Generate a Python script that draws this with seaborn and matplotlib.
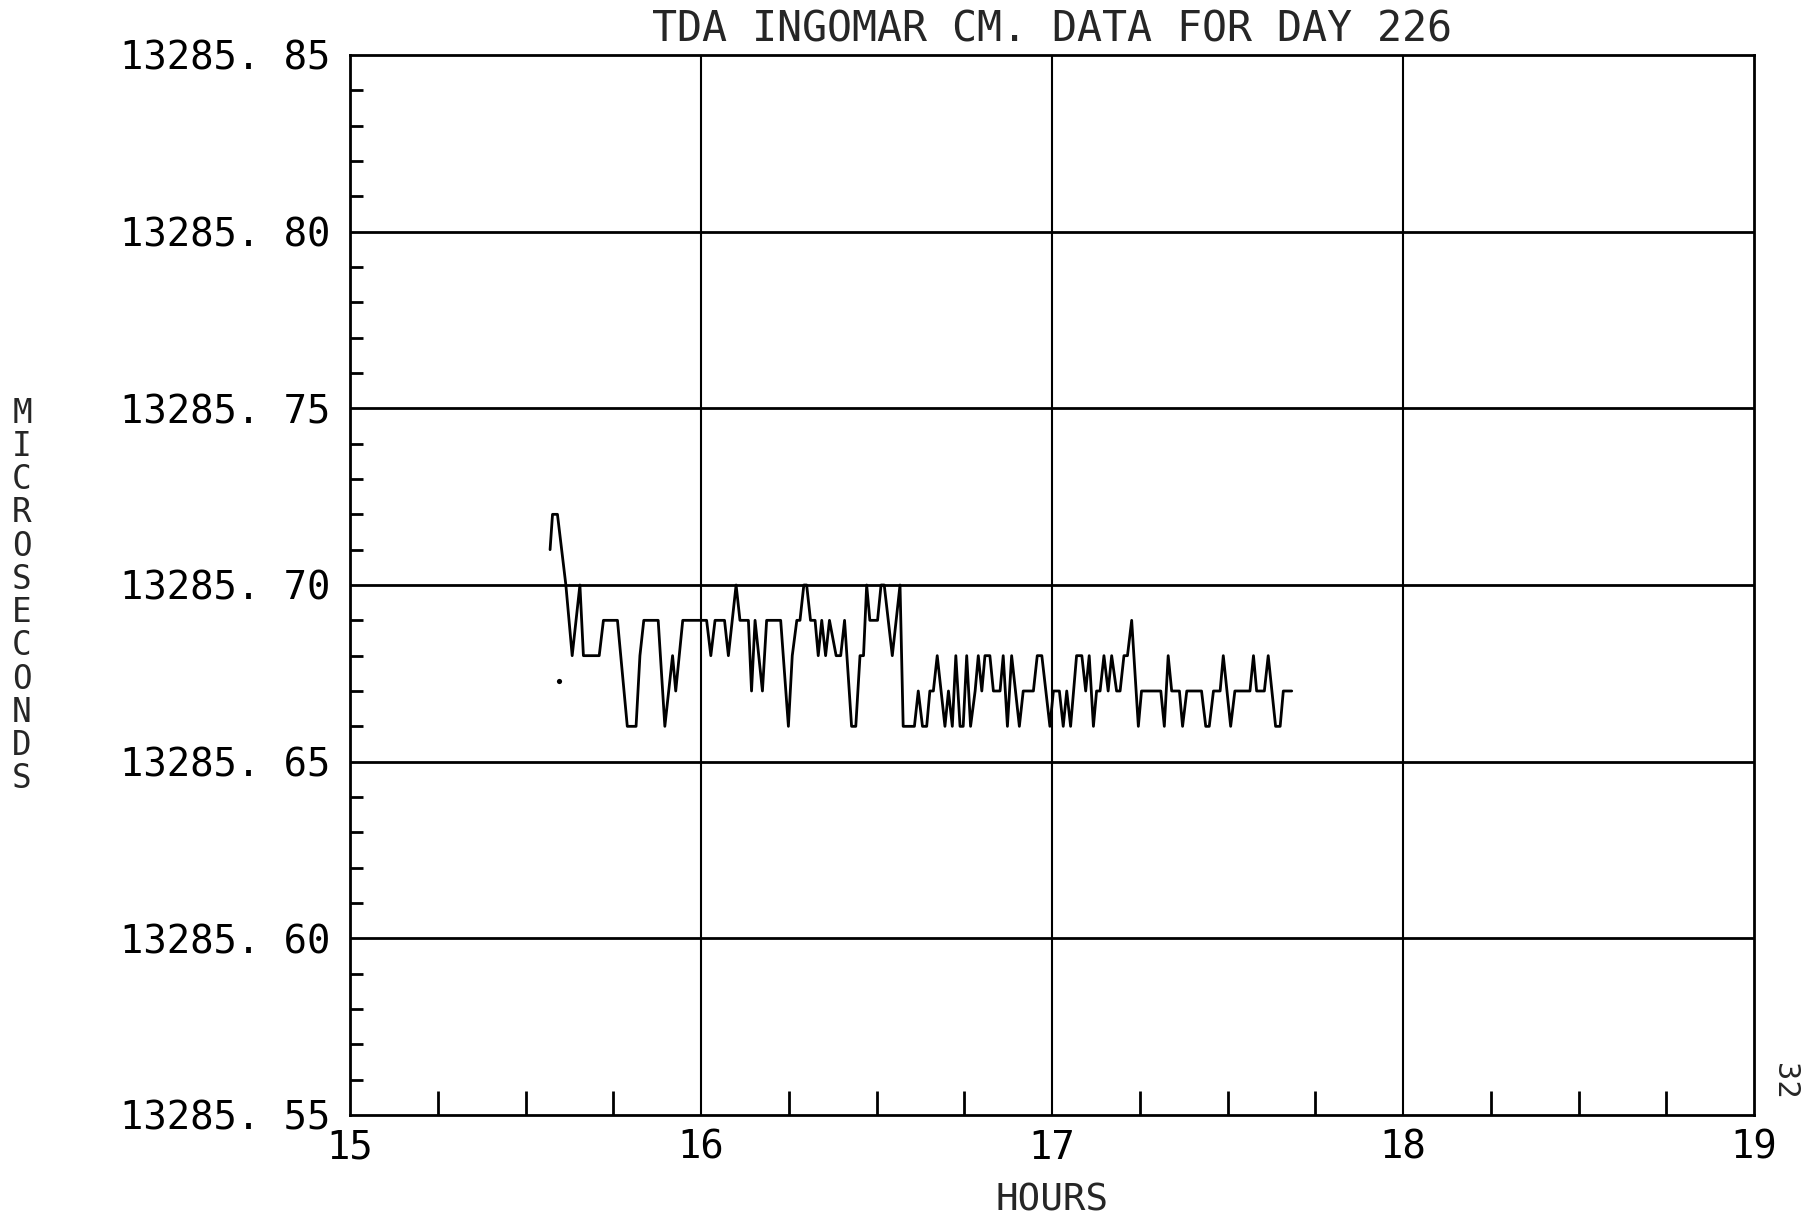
import matplotlib
matplotlib.use("Agg")
import matplotlib.pyplot as plt
from matplotlib.ticker import FixedLocator, FuncFormatter
import seaborn as sns
import pandas as pd

# Ingomar time-difference readings (hours of day 226, microseconds)
hours = [
    15.570, 15.577, 15.591, 15.615, 15.633, 15.655, 15.665, 15.710, 15.722, 15.762,
    15.790, 15.815, 15.826, 15.837, 15.878, 15.897, 15.919, 15.928, 15.948, 16.016,
    16.028, 16.040, 16.067, 16.078, 16.100,
    16.111, 16.135, 16.144, 16.154, 16.175, 16.187, 16.227, 16.249, 16.260, 16.273,
    16.282, 16.293, 16.301, 16.312, 16.325, 16.334, 16.344, 16.355, 16.366, 16.385,
    16.398, 16.409, 16.429, 16.441, 16.453, 16.463, 16.472, 16.481, 16.503, 16.513,
    16.522, 16.545, 16.567, 16.576, 16.608, 16.619, 16.631, 16.643,
    16.652, 16.662, 16.673, 16.695, 16.705, 16.716, 16.726, 16.738, 16.747, 16.757,
    16.768, 16.781, 16.790, 16.800, 16.809, 16.823, 16.833, 16.852, 16.861, 16.873,
    16.885, 16.907, 16.918, 16.947, 16.958, 16.971, 16.994, 17.004, 17.021, 17.032,
    17.042, 17.053, 17.070, 17.085, 17.096, 17.106, 17.118, 17.127, 17.137, 17.148,
    17.160, 17.170,
    17.184, 17.194, 17.205, 17.215, 17.227, 17.246, 17.255, 17.310, 17.320, 17.331,
    17.341, 17.363, 17.372, 17.384, 17.426, 17.438, 17.448, 17.460, 17.479, 17.488,
    17.509, 17.521, 17.564, 17.574, 17.583, 17.605, 17.616, 17.637, 17.650, 17.659,
    17.683,
]
microseconds = [
    13285.71, 13285.72, 13285.72, 13285.70, 13285.68, 13285.70, 13285.68, 13285.68, 13285.69, 13285.69,
    13285.66, 13285.66, 13285.68, 13285.69, 13285.69, 13285.66, 13285.68, 13285.67, 13285.69, 13285.69,
    13285.68, 13285.69, 13285.69, 13285.68, 13285.70,
    13285.69, 13285.69, 13285.67, 13285.69, 13285.67, 13285.69, 13285.69, 13285.66, 13285.68, 13285.69,
    13285.69, 13285.70, 13285.70, 13285.69, 13285.69, 13285.68, 13285.69, 13285.68, 13285.69, 13285.68,
    13285.68, 13285.69, 13285.66, 13285.66, 13285.68, 13285.68, 13285.70, 13285.69, 13285.69, 13285.70,
    13285.70, 13285.68, 13285.70, 13285.66, 13285.66, 13285.67, 13285.66, 13285.66,
    13285.67, 13285.67, 13285.68, 13285.66, 13285.67, 13285.66, 13285.68, 13285.66, 13285.66, 13285.68,
    13285.66, 13285.67, 13285.68, 13285.67, 13285.68, 13285.68, 13285.67, 13285.67, 13285.68, 13285.66,
    13285.68, 13285.66, 13285.67, 13285.67, 13285.68, 13285.68, 13285.66, 13285.67, 13285.67, 13285.66,
    13285.67, 13285.66, 13285.68, 13285.68, 13285.67, 13285.68, 13285.66, 13285.67, 13285.67, 13285.68,
    13285.67, 13285.68,
    13285.67, 13285.67, 13285.68, 13285.68, 13285.69, 13285.66, 13285.67, 13285.67, 13285.66, 13285.68,
    13285.67, 13285.67, 13285.66, 13285.67, 13285.67, 13285.66, 13285.66, 13285.67, 13285.67, 13285.68,
    13285.66, 13285.67, 13285.67, 13285.68, 13285.67, 13285.67, 13285.68, 13285.66, 13285.66, 13285.67,
    13285.67,
]
# isolated pen dot left by the plotter
stray_hours = [15.595]
stray_microseconds = [13285.6727]

x_ticks = [15, 16, 17, 18, 19]
y_ticks = [13285.55, 13285.60, 13285.65, 13285.70, 13285.75, 13285.80, 13285.85]

title_text = "TDA INGOMAR CM. DATA FOR DAY 226"
x_title = "HOURS"
y_title = "MICROSECONDS"
page_number = "32"

sns.set_style("white")
plt.rcParams["font.family"] = ["DejaVu Sans Mono", "DejaVu Sans"]

df = pd.DataFrame({"hours": hours, "us": microseconds})

fig = plt.figure(figsize=(18.02, 12.18), dpi=100)
ax = fig.add_axes([350 / 1802, 1 - 1115 / 1218, 1404 / 1802, 1060 / 1218])

sns.lineplot(data=df, x="hours", y="us", ax=ax, estimator=None, sort=False,
             color="black", linewidth=2.0, zorder=3)
sns.scatterplot(x=stray_hours, y=stray_microseconds, ax=ax, color="black",
                s=14, linewidth=0, zorder=3)

ax.set_xlim(15, 19)
ax.set_ylim(13285.55, 13285.85)

# major grid at whole hours and every 0.05 us, inward minor ticks between
ax.xaxis.set_major_locator(FixedLocator(x_ticks))
ax.yaxis.set_major_locator(FixedLocator(y_ticks))
ax.xaxis.set_minor_locator(FixedLocator([15 + 0.25 * i for i in range(17) if i % 4]))
ax.yaxis.set_minor_locator(FixedLocator([13285.55 + 0.01 * i for i in range(31) if i % 5]))
ax.xaxis.set_major_formatter(FuncFormatter(lambda v, p: f"{v:.0f}"))
ax.yaxis.set_major_formatter(FuncFormatter(lambda v, p: f"{v:.2f}".replace(".", ". ")))

for v in x_ticks[1:-1]:
    ax.axvline(v, color="black", linewidth=1.5, zorder=1)
for v in y_ticks[1:-1]:
    ax.axhline(v, color="black", linewidth=2.0, zorder=1)

ax.tick_params(axis="both", which="both", bottom=True, left=True, top=False, right=False)
ax.tick_params(axis="both", which="major", length=0, labelsize=28, colors="black")
ax.tick_params(axis="x", which="major", pad=10)
ax.tick_params(axis="y", which="major", pad=14)
ax.tick_params(axis="x", which="minor", direction="in", length=17, width=2.0, color="black")
ax.tick_params(axis="y", which="minor", direction="in", length=9.5, width=2.0, color="black")

for s in ax.spines.values():
    s.set_color("black")
    s.set_linewidth(2.0)

ax.set_xlabel(x_title, fontsize=27, labelpad=11)
ax.set_ylabel("\n".join(y_title), fontsize=23.5, rotation=0, linespacing=1.01,
              ha="center", va="center")
ax.yaxis.set_label_coords((22 - 350) / 1404, (1115 - 596) / 1060)
ax.set_title(title_text, fontsize=30, pad=10)

fig.text(1785 / 1802, 1 - 1081 / 1218, page_number, rotation=-90, fontsize=22,
         ha="center", va="center")

fig.savefig("out.png", dpi=100, facecolor="white")
